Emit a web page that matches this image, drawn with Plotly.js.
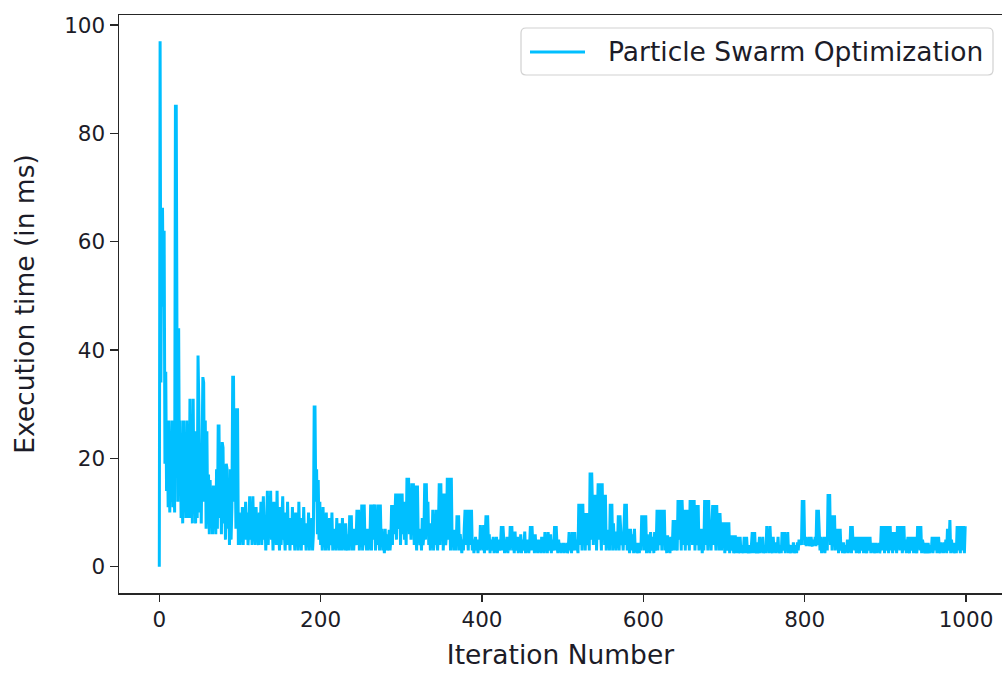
<!DOCTYPE html>
<html>
<head>
<meta charset="utf-8">
<script src="https://cdn.plot.ly/plotly-3.0.1.min.js"></script>
<style>
  html, body { margin: 0; padding: 0; background: #ffffff; overflow: hidden; }
  #chart { width: 1002px; height: 673px; }
</style>
</head>
<body>
<div id="chart"></div>
<script>
// Execution time (ms) per iteration
const execTime000to199 = [
  0, 97, 34, 66, 66, 48, 62, 19, 36, 14, 25, 11, 27, 10, 24, 12, 27, 11, 19, 10, 85, 85, 38, 12, 44,
  14, 27, 9, 21, 8, 27, 11, 17, 9, 27, 9, 15, 9, 31, 9, 22, 8, 31, 10, 18, 8, 25, 9, 39, 30,
  10, 22, 8, 18, 35, 34, 12, 27, 7, 25, 8, 17, 6, 16, 9, 14, 6, 15, 7, 12, 6, 18, 7, 26, 26,
  9, 16, 6, 23, 22, 8, 14, 5, 19, 18, 7, 12, 4, 18, 5, 11, 35, 35, 12, 22, 7, 29, 29, 4, 10,
  4, 8, 5, 11, 4, 9, 6, 12, 5, 10, 4, 7, 13, 5, 9, 4, 13, 6, 8, 4, 11, 5, 7, 4, 10,
  5, 12, 4, 8, 13, 5, 9, 3, 7, 14, 4, 10, 6, 14, 5, 8, 3, 12, 6, 9, 4, 14, 5, 7, 3,
  11, 4, 8, 13, 5, 6, 3, 10, 4, 12, 5, 7, 3, 9, 4, 11, 5, 6, 3, 10, 4, 8, 3, 12, 5,
  7, 3, 9, 4, 11, 5, 6, 3, 8, 4, 10, 3, 7, 5, 9, 3, 6, 29.5, 29.5, 12, 18, 6, 16, 5, 12
];
const execTime200to399 = [
  4, 9, 3, 11, 5, 7, 3, 10, 4, 6, 3, 9, 5, 4, 10, 3, 7, 4, 5, 3, 9, 4, 6, 3, 8,
  7, 3, 9, 4, 5, 3, 8, 4, 3, 6, 3, 9.5, 4, 9.5, 3, 6, 3, 7, 4, 5, 10.5, 4, 10.5, 3, 8,
  4, 11.5, 3, 6, 11.5, 4, 5, 3, 7, 3, 5, 4, 11.5, 3, 11.5, 5, 8, 11.5, 3, 10, 4, 11.5, 6, 3, 11.5,
  4, 7, 3, 5, 2.5, 7, 3, 6, 3, 4, 6.8, 3, 5, 11.4, 4, 11.4, 6, 9, 13.5, 5, 13.5, 7, 10, 13.5, 4,
  8, 13.5, 6, 12, 5, 9, 4, 16.4, 7, 16.4, 6, 12, 5, 15.4, 8, 15.4, 4, 15, 6, 3, 15, 5, 7, 4, 7,
  3, 9, 4, 6, 15.4, 5, 15.4, 7, 12, 4, 8, 3, 6, 4, 10.5, 3, 9, 4, 10.5, 5, 3, 7, 15.4, 4, 15.4,
  6, 13.5, 3, 8, 13.5, 4, 6, 16.4, 5, 16.4, 9, 3, 16.4, 4, 6, 3, 6.8, 4, 3, 9.5, 5, 9.5, 3, 6, 4,
  2.5, 5, 3, 7, 10.5, 4, 10.5, 6, 3, 10.5, 4, 8, 10.5, 3, 5, 2.5, 4, 5.5, 3, 5, 2.5, 4.5, 3, 7.7, 4
];
const execTime400to599 = [
  5, 3, 7.7, 2.5, 5, 9.5, 3, 9.5, 4, 6, 2.5, 5, 3, 4.5, 5.5, 2.5, 4, 3, 5.5, 2.5, 4, 5, 3, 4, 7.5,
  3, 7.5, 4, 2.5, 5, 3, 5.5, 2.5, 4, 3, 7.5, 4, 7.5, 3, 5, 2.5, 6.5, 3, 4, 5.5, 2.5, 4, 3, 6, 2.5,
  5, 3, 4, 6.5, 2.5, 4, 3, 5, 2.5, 4, 7.5, 3, 7.5, 4, 5, 2.5, 6, 3, 4, 2.5, 5, 3, 4.5, 2.5, 5.5,
  3, 4, 2.5, 6.4, 3, 5, 2.5, 6.4, 4, 3, 6, 2.5, 5, 3, 4, 7.5, 3, 7.5, 4, 2.5, 5, 3, 4.4, 2.5, 4,
  3, 4.4, 2.5, 4, 3, 4.4, 2.5, 3.5, 6.4, 3, 5, 2.5, 6.4, 4, 3, 6.4, 3, 5, 4, 2.5, 11.6, 4, 8, 11.6, 3,
  11.6, 5, 9.9, 3, 9.9, 6, 4, 9.9, 3, 17.4, 5, 17.4, 8, 4, 13.3, 6, 13.3, 3, 9, 15.4, 5, 15.4, 7, 3, 15.4,
  6, 13.3, 4, 13.3, 3, 6.8, 4, 6.8, 3, 11.6, 5, 11.6, 3, 8, 4, 6, 3, 6.5, 4, 9.5, 3, 9.5, 5, 4, 6,
  3, 7, 11.6, 4, 11.6, 3, 7, 4, 2.5, 7, 5, 3, 6, 2.5, 7, 3, 4.4, 2.5, 3.5, 4.4, 2.5, 4, 3, 9.5, 4
];
const execTime600to799 = [
  9.5, 3, 5, 9.5, 2.5, 6, 3, 5, 2.5, 6.4, 3, 4, 5.5, 2.5, 6.4, 3, 4, 10.5, 3, 10.5, 5, 4, 10.5, 3, 10.5,
  4, 10.5, 3, 5, 2.5, 5.8, 3, 4.7, 2.5, 5.5, 3, 4, 8.6, 3, 8.6, 5, 4, 3, 12.3, 5, 12.3, 8, 3, 12.3, 6,
  4, 10.5, 3, 10.5, 6, 4, 10.5, 3, 12.3, 5, 12.3, 4, 9, 12.3, 3, 11.4, 6, 4, 11.4, 3, 7, 4, 7, 2.5, 5,
  3, 12.3, 4, 12.3, 6, 3, 12.3, 5, 7.7, 3, 7.7, 11.4, 4, 11.4, 6, 3, 11.4, 4, 9.9, 3, 9.9, 5, 3, 8.2, 4,
  8.2, 2.5, 5, 8.2, 3, 4, 8.2, 2.5, 5.8, 3, 4, 5.8, 2.5, 3.5, 5.8, 2.5, 4, 5.5, 2.5, 3.5, 5.5, 2.5, 4, 3, 2.5,
  5.5, 2.5, 4, 5.5, 3, 2.5, 4, 3, 2.5, 4, 6.4, 2.5, 4, 6.4, 3, 2.5, 4.5, 2.5, 3.5, 5.5, 2.5, 4, 3, 5.5, 2.5,
  3.5, 4, 2.5, 7.5, 3, 5, 2.5, 7.5, 4, 3, 2.5, 5.5, 3, 4, 2.5, 4.5, 3, 5.5, 2.5, 3.5, 4, 2.5, 6.4, 3, 4,
  6.4, 2.5, 5, 3, 6.4, 2.5, 4, 3, 2.5, 4, 3, 4.5, 2.5, 3.5, 4, 2.5, 4.5, 3, 5, 4, 5, 4, 12.3, 5, 12.3
];
const execTime800to999 = [
  4, 5.5, 3.8, 5, 4, 5.5, 3.8, 4.5, 5.5, 4, 3.8, 5, 4, 5.5, 3.8, 10.5, 4, 10.5, 5, 3, 5.5, 2.5, 4, 3, 5.5,
  2.5, 4, 5.5, 3, 13.4, 5, 13.4, 4, 9.5, 3, 9.5, 5, 9.5, 3, 7, 4, 7, 2.5, 5, 7, 3, 4, 2.5, 4.5, 3,
  2.5, 4, 3, 5, 2.5, 4, 3, 7.5, 2.5, 7.5, 4, 5.5, 3, 5.5, 2.5, 4, 5.5, 3, 2.5, 5.5, 4, 3, 5.5, 2.5, 4,
  5.5, 3, 2.5, 5.5, 4, 3, 5.5, 2.5, 4, 3, 4.4, 2.5, 3.5, 4.4, 2.5, 4, 3, 4.4, 2.5, 3.5, 7.5, 3, 5, 7.5, 2.5,
  7.5, 4, 3, 7.5, 2.5, 5, 7.5, 3, 6.4, 2.5, 4, 6.4, 3, 5, 2.5, 7.5, 4, 7.5, 3, 5, 7.5, 2.5, 4, 7.5, 3,
  5, 2.5, 4, 5.5, 3, 2.5, 5.5, 4, 3, 5.5, 2.5, 4, 5.5, 3, 2.5, 7.5, 4, 7.5, 3, 7.5, 2.5, 5, 4, 3, 2.5,
  4.4, 3, 2.5, 4.4, 3.5, 2.5, 4, 3, 5.5, 2.5, 4, 5.5, 3, 5.5, 2.5, 4, 5.5, 3, 2.5, 4.5, 3, 4, 2.5, 4.5, 3,
  5, 2.5, 7, 3, 4, 8.6, 2.5, 5, 3, 4.4, 2.5, 3.5, 4.4, 2.5, 7.5, 3, 7.5, 4, 2.5, 7.5, 3, 5, 7.5, 2.5, 7.5
];
const xTickValues = [0, 200, 400, 600, 800, 1000];
const yTickValues = [0, 20, 40, 60, 80, 100];
const seriesName = 'Particle Swarm Optimization';

const execTime = [].concat(execTime000to199, execTime200to399, execTime400to599, execTime600to799, execTime800to999);
const iterations = execTime.map((_, i) => i);

const FONT = 'DejaVu Sans, Verdana, sans-serif';
const TXT = '#1c1c28';
const AX = '#262626';
const TICK_FS = 21.5;
const LABEL_FS = 26.5;
const LINE_COLOR = '#00BFFF';

// page geometry (pixels) used only for the hand-built matplotlib-style legend box
const W = 1002, H = 673, ML = 119, MR = 0, MT = 15, MB = 80;
const PW = W - ML - MR, PH = H - MT - MB;
const px = v => (v - ML) / PW;           // pixel x -> paper x
const py = v => (H - MB - v) / PH;       // pixel y -> paper y

function roundedRect(x0, y0, x1, y1, r) {
  // pixel coords in, paper-space SVG path out
  const rx = r / PW, ry = r / PH;
  const L = px(x0), R = px(x1), T = py(y0), B = py(y1);
  return 'M' + (L + rx) + ',' + T +
         ' L' + (R - rx) + ',' + T + ' Q' + R + ',' + T + ' ' + R + ',' + (T - ry) +
         ' L' + R + ',' + (B + ry) + ' Q' + R + ',' + B + ' ' + (R - rx) + ',' + B +
         ' L' + (L + rx) + ',' + B + ' Q' + L + ',' + B + ' ' + L + ',' + (B + ry) +
         ' L' + L + ',' + (T - ry) + ' Q' + L + ',' + T + ' ' + (L + rx) + ',' + T + ' Z';
}

const trace = {
  type: 'scatter',
  mode: 'lines',
  x: iterations,
  y: execTime,
  name: seriesName,
  line: { color: LINE_COLOR, width: 3 },
  showlegend: false
};

const layout = {
  width: W,
  height: H,
  margin: { l: ML, r: MR, t: MT, b: MB, pad: 0 },
  paper_bgcolor: '#ffffff',
  plot_bgcolor: '#ffffff',
  font: { family: FONT, size: TICK_FS, color: TXT },
  showlegend: false,
  xaxis: {
    range: [-49.95, 1044.6],
    tickmode: 'array',
    tickvals: xTickValues,
    ticktext: xTickValues.map(String),
    showgrid: false,
    zeroline: false,
    showline: true,
    mirror: true,
    linecolor: AX,
    linewidth: 1.5,
    ticks: 'outside',
    ticklen: 7,
    tickwidth: 1.5,
    tickcolor: AX,
    tickfont: { family: FONT, size: TICK_FS, color: TXT },
    automargin: false,
    title: { text: 'Iteration Number', font: { family: FONT, size: LABEL_FS, color: TXT }, standoff: 14 }
  },
  yaxis: {
    range: [-4.85, 101.85],
    tickmode: 'array',
    tickvals: yTickValues,
    ticktext: yTickValues.map(String),
    showgrid: false,
    zeroline: false,
    showline: true,
    mirror: false,
    linecolor: AX,
    linewidth: 1.5,
    ticks: 'outside',
    ticklen: 8,
    tickwidth: 1.5,
    tickcolor: AX,
    tickfont: { family: FONT, size: TICK_FS, color: TXT },
    automargin: false,
    title: { text: 'Execution time (in ms)', font: { family: FONT, size: LABEL_FS, color: TXT }, standoff: 22 }
  },
  shapes: [
    {
      type: 'path', xref: 'paper', yref: 'paper',
      path: roundedRect(521, 28, 993, 75, 5),
      fillcolor: 'rgba(255,255,255,0.8)',
      line: { color: 'rgba(204,204,204,0.9)', width: 1.2 },
      layer: 'above'
    },
    {
      type: 'line', xref: 'paper', yref: 'paper',
      x0: px(530), x1: px(585), y0: py(52), y1: py(52),
      line: { color: LINE_COLOR, width: 3 },
      layer: 'above'
    }
  ],
  annotations: [
    {
      xref: 'paper', yref: 'paper',
      x: px(606), y: py(52), xanchor: 'left', yanchor: 'middle',
      text: seriesName, showarrow: false,
      font: { family: FONT, size: LABEL_FS, color: TXT }
    }
  ]
};

Plotly.newPlot('chart', [trace], layout, { staticPlot: true, displayModeBar: false });
</script>
</body>
</html>
